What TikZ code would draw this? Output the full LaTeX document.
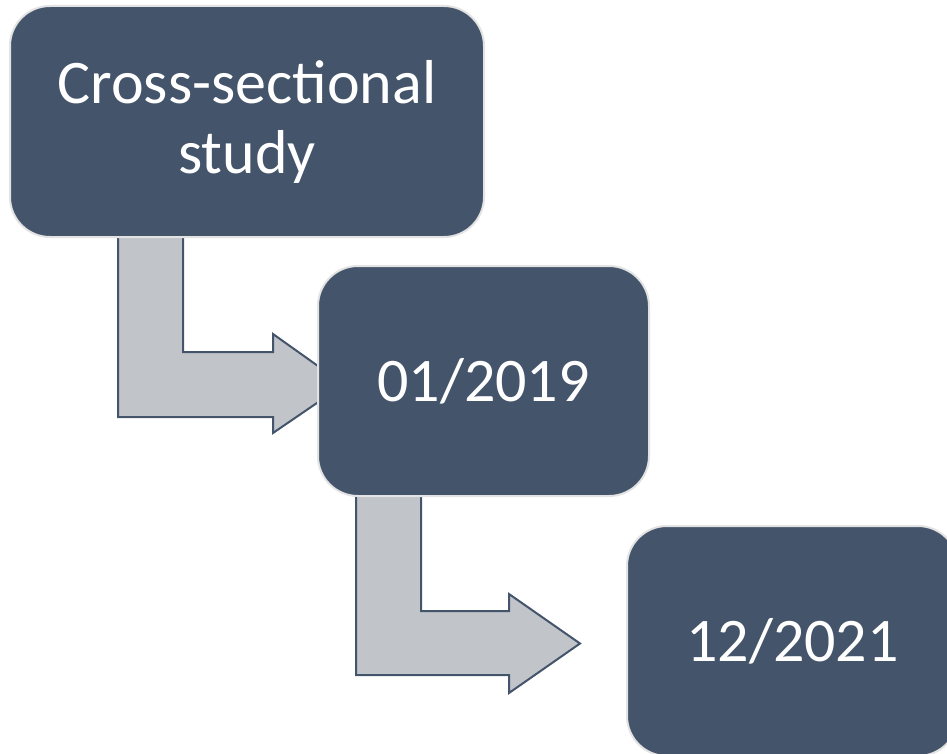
\documentclass[tikz,border=0pt]{standalone}
\usepackage{fontspec}
\setmainfont{Carlito}
\definecolor{boxfill}{HTML}{44546A}
\definecolor{arrowfill}{HTML}{C1C4C9}
\definecolor{boxedge}{HTML}{E3E3E3}
\begin{document}
\begin{tikzpicture}[x=1pt,y=-1pt,
  stagebox/.style={draw=boxedge, line width=2pt, fill=boxfill, rounded corners=40pt,
    text=white, align=center, minimum width=331pt, minimum height=230pt, inner sep=0pt,
    font=\fontsize{62}{70}\selectfont},
  bentarrow/.style={draw=boxfill, line width=2pt, fill=arrowfill, line join=miter}]
\useasboundingbox (0,0) rectangle (947,754);
\clip (0,0) rectangle (947,754);
% bent arrows (behind the boxes)
\coordinate (a1) at (118,230);
\draw[bentarrow] (a1) -- (183,230) -- (183,352) -- (273,352) -- (273,334) -- (344,384.5)
  -- (273,433) -- (273,417) -- (118,417) -- cycle;
\coordinate (a2) at (356,490);
\draw[bentarrow] (a2) -- (421,490) -- (421,611) -- (509,611) -- (509,594) -- (580,643.5)
  -- (509,693) -- (509,675) -- (356,675) -- cycle;
% boxes
\node[stagebox, minimum width=474pt, minimum height=231pt] (b1) at (247,121.5)
  {Cross-sectional\\study};
\node[stagebox] (b2) at (483.5,381) {01/2019};
\node[stagebox] (b3) at (792.5,641) {12/2021};
\end{tikzpicture}
\end{document}
